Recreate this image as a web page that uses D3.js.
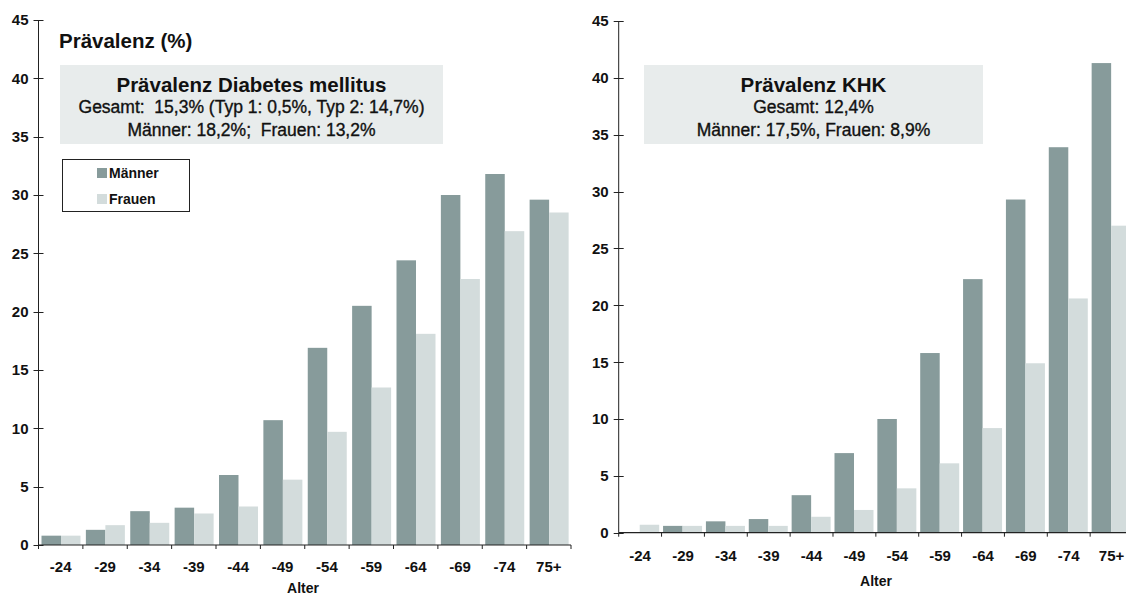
<!DOCTYPE html>
<html>
<head>
<meta charset="utf-8">
<script src="https://cdn.jsdelivr.net/npm/d3@7"></script>
<style>
  html, body { margin: 0; padding: 0; background: #fff; }
  svg { display: block; font-family: "Liberation Sans", Arial, sans-serif; }
</style>
</head>
<body>
<svg id="chart" width="1126" height="595"></svg>
<script>
// ---- data ----
const ageGroups = ['-24','-29','-34','-39','-44','-49','-54','-59','-64','-69','-74','75+'];
const diabetesMen   = [0.8, 1.3, 2.9, 3.2, 6.0, 10.7, 16.9, 20.5, 24.4, 30.0, 31.8, 29.6];
const diabetesWomen = [0.8, 1.7, 1.9, 2.7, 3.3, 5.6, 9.7, 13.5, 18.1, 22.8, 26.9, 28.5];
const khkMen   = [0, 0.6, 1.0, 1.2, 3.3, 7.0, 10.0, 15.8, 22.3, 29.3, 33.9, 41.3];
const khkWomen = [0.7, 0.6, 0.6, 0.6, 1.4, 2.0, 3.9, 6.1, 9.2, 14.9, 20.6, 27.0];
const yTicks = [0, 5, 10, 15, 20, 25, 30, 35, 40, 45];
const seriesNames = ['Männer', 'Frauen'];
const xTitle = 'Alter';
const yTitle = 'Prävalenz (%)';
const diabetesBox = ['Prävalenz Diabetes mellitus', 'Gesamt:  15,3% (Typ 1: 0,5%, Typ 2: 14,7%)', 'Männer: 18,2%;  Frauen: 13,2%'];
const khkBox = ['Prävalenz KHK', 'Gesamt: 12,4%', 'Männer: 17,5%, Frauen: 8,9%'];

const colors = { 'Männer': '#879b9b', 'Frauen': '#d3dcdc' };
const svg = d3.select('#chart');

function drawChart(cfg) {
  const g = svg.append('g');
  const x = d3.scaleBand().domain(ageGroups).range([cfg.x0, cfg.x1]).padding(0);
  const sub = d3.scaleBand().domain(seriesNames).range(cfg.inner).padding(0);
  const y = d3.scaleLinear().domain([0, 45]).range([cfg.yBottom, cfg.yTop]);

  const rows = ageGroups.map((a, i) => ({ age: a, 'Männer': cfg.men[i], 'Frauen': cfg.women[i] }));

  // bars
  const grp = g.selectAll('g.grp').data(rows).join('g')
    .attr('transform', d => `translate(${x(d.age)},0)`);
  grp.selectAll('rect').data(d => seriesNames.map(s => ({ s, v: d[s] })).filter(e => e.v > 0)).join('rect')
    .attr('x', d => sub(d.s))
    .attr('width', sub.bandwidth())
    .attr('y', d => y(d.v))
    .attr('height', d => y(0) - y(d.v))
    .attr('fill', d => colors[d.s]);

  // y axis
  g.append('line').attr('x1', cfg.x0).attr('x2', cfg.x0)
    .attr('y1', y(0)).attr('y2', y(45)).attr('stroke', '#222').attr('stroke-width', 1);
  g.selectAll('line.yt').data(yTicks).join('line')
    .attr('x1', cfg.x0 - 5).attr('x2', cfg.x0 + 5)
    .attr('y1', d => Math.round(y(d)) + 0.5).attr('y2', d => Math.round(y(d)) + 0.5)
    .attr('stroke', '#222');
  g.selectAll('text.yl').data(yTicks).join('text')
    .attr('x', cfg.x0 - 10).attr('y', d => y(d)).attr('dy', '0.36em')
    .attr('text-anchor', 'end').attr('font-size', 15).attr('font-weight', 'bold')
    .attr('fill', '#111').text(d => d);

  // x axis
  g.append('line').attr('x1', cfg.x0).attr('x2', cfg.x1)
    .attr('y1', y(0)).attr('y2', y(0)).attr('stroke', '#222').attr('stroke-width', 1.2);
  const bounds = ageGroups.map(a => x(a)).concat([cfg.x1]);
  g.selectAll('line.xt').data(bounds).join('line')
    .attr('x1', d => d).attr('x2', d => d)
    .attr('y1', y(0)).attr('y2', y(0) + 4).attr('stroke', '#222');
  g.selectAll('text.xl').data(ageGroups).join('text')
    .attr('x', d => x(d) + x.bandwidth() / 2).attr('y', cfg.xLabelY)
    .attr('text-anchor', 'middle').attr('font-size', 15).attr('font-weight', 'bold')
    .attr('fill', '#111').text(d => d);
  g.append('text').attr('x', cfg.xTitleX).attr('y', cfg.xTitleY)
    .attr('text-anchor', 'middle').attr('font-size', 14).attr('font-weight', 'bold')
    .attr('fill', '#111').text(xTitle);

  // info box
  g.append('rect').attr('x', cfg.box[0]).attr('y', cfg.box[1])
    .attr('width', cfg.box[2]).attr('height', cfg.box[3]).attr('fill', '#e8ecec');
  const cx = cfg.box[0] + cfg.box[2] / 2;
  g.append('text').attr('x', cx).attr('y', cfg.box[1] + 27)
    .attr('text-anchor', 'middle').attr('font-size', 20.5).attr('font-weight', 'bold')
    .attr('fill', '#111').text(cfg.text[0]);
  g.append('text').attr('x', cx).attr('y', cfg.box[1] + 48)
    .attr('text-anchor', 'middle').attr('font-size', 17.5)
    .attr('fill', '#111').attr('stroke', '#111').attr('stroke-width', 0.35)
    .text(cfg.text[1]).style('white-space', 'pre');
  g.append('text').attr('x', cx).attr('y', cfg.box[1] + 71)
    .attr('text-anchor', 'middle').attr('font-size', 17.5)
    .attr('fill', '#111').attr('stroke', '#111').attr('stroke-width', 0.35)
    .text(cfg.text[2]).style('white-space', 'pre');
  return g;
}

const left = drawChart({
  x0: 38.5, x1: 571, yBottom: 545, yTop: 20, inner: [3, 42],
  men: diabetesMen, women: diabetesWomen,
  xLabelY: 572, xTitleX: 303, xTitleY: 593,
  box: [60, 65, 383, 79], text: diabetesBox
});

const right = drawChart({
  x0: 618.7, x1: 1133, yBottom: 532.7, yTop: 21, inner: [1.5, 40.5],
  men: khkMen, women: khkWomen,
  xLabelY: 561, xTitleX: 876, xTitleY: 586,
  box: [644, 65, 339, 79], text: khkBox
});

// y title (left)
svg.append('text').attr('x', 59).attr('y', 48)
  .attr('font-size', 20.5).attr('font-weight', 'bold').attr('fill', '#111').text(yTitle);

// legend
const lg = svg.append('g');
lg.append('rect').attr('x', 62.5).attr('y', 159.5).attr('width', 127).attr('height', 52)
  .attr('fill', '#fff').attr('stroke', '#222').attr('stroke-width', 1);
seriesNames.forEach((s, i) => {
  lg.append('rect').attr('x', 97).attr('y', 168 + i * 26).attr('width', 10).attr('height', 10)
    .attr('fill', colors[s]);
  lg.append('text').attr('x', 109).attr('y', 178 + i * 26)
    .attr('font-size', 14).attr('font-weight', 'bold').attr('fill', '#111').text(s);
});
</script>
</body>
</html>
